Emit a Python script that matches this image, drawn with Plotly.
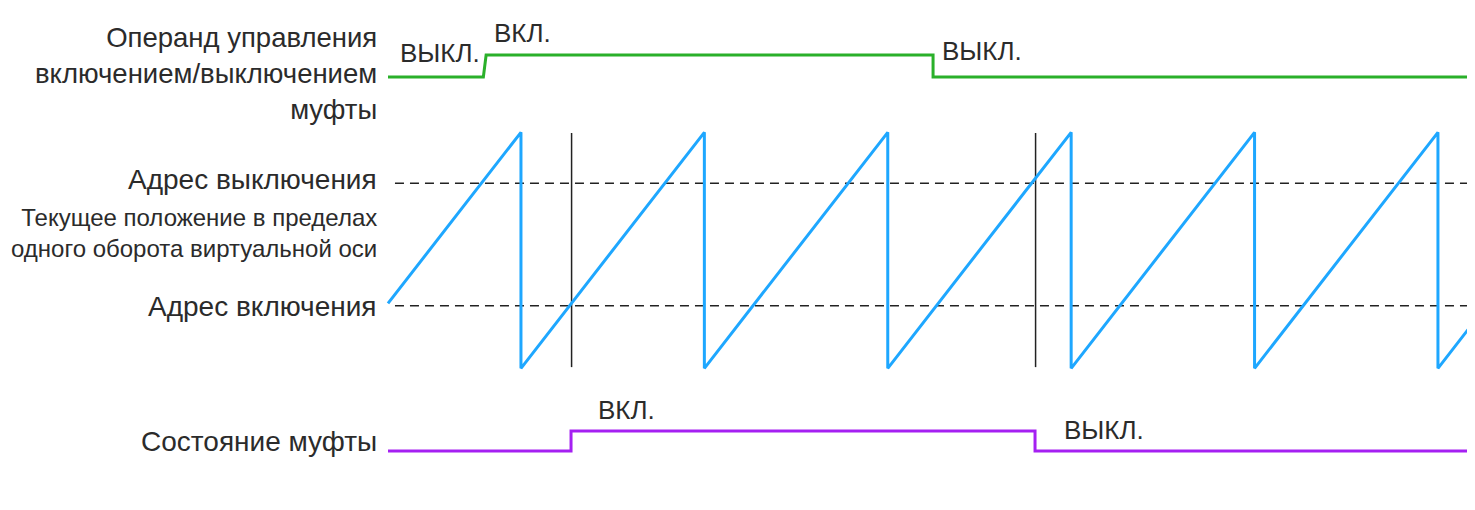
import plotly.graph_objects as go

# time axis in ms, position within one revolution in %
t_saw = [0, 72.5, 72.5, 172.5, 172.5, 272.5, 272.5, 372.5, 372.5, 472.5, 472.5, 572.5, 572.5, 600]
pos_saw = [27.5, 100, 0, 100, 0, 100, 0, 100, 0, 100, 0, 100, 0, 27.5]

t_cmd = [0, 52, 53.5, 297.2, 297.2, 600]
cmd_state = [0, 0, 1, 1, 0, 0]

t_clutch = [0, 99.8, 99.8, 352.8, 352.8, 600]
clutch_state = [0, 0, 1, 1, 0, 0]

off_address = 78.4
on_address = 26.5
t_dash = [3.8, 600]
t_events = [100.1, 353.1]
event_span = [0.5, 99.7]

# page body has an 8px margin, so the figure is a bit smaller than the window
OFF = 8
W, H = 1475 - OFF, 510 - OFF


def px(x):
    return (x - OFF) / W


def py(y):
    return 1 - (y - OFF) / H


fig = go.Figure()

for addr in [off_address, on_address]:
    fig.add_trace(go.Scatter(x=t_dash, y=[addr, addr], mode="lines",
                             line=dict(color="#222222", width=1.5, dash="9px,6px"),
                             yaxis="y", hoverinfo="skip"))

for te in t_events:
    fig.add_trace(go.Scatter(x=[te, te], y=event_span, mode="lines",
                             line=dict(color="#222222", width=1.5),
                             yaxis="y", hoverinfo="skip"))

fig.add_trace(go.Scatter(x=t_saw, y=pos_saw, mode="lines",
                         line=dict(color="#1ea7ff", width=3), yaxis="y"))
fig.add_trace(go.Scatter(x=t_cmd, y=cmd_state, mode="lines",
                         line=dict(color="#2ab02a", width=3), yaxis="y2"))
fig.add_trace(go.Scatter(x=t_clutch, y=clutch_state, mode="lines",
                         line=dict(color="#a520f2", width=3), yaxis="y3"))

txt = "#2b2b2b"
font_main = "Liberation Sans, Arial, sans-serif"
annots = [
    ("Операнд управления<br>включением/выключением<br>муфты", 379, 73, "right", 27.5),
    ("Адрес выключения", 379, 180, "right", 28),
    ("Текущее положение в пределах<br>одного оборота виртуальной оси", 379, 233, "right", 24),
    ("Адрес включения", 379, 306, "right", 28),
    ("Состояние муфты", 379, 441, "right", 28),
    ("ВЫКЛ.", 440, 53, "center", 26),
    ("ВКЛ.", 522, 33, "center", 26),
    ("ВЫКЛ.", 982, 51, "center", 26),
    ("ВКЛ.", 626, 410, "center", 26),
    ("ВЫКЛ.", 1104, 430, "center", 26),
]
for text, x, y, anchor, size in annots:
    fig.add_annotation(text=text, x=px(x), y=py(y), xref="paper", yref="paper",
                       xanchor=anchor, yanchor="middle", showarrow=False,
                       align=anchor,
                       font=dict(size=size, color=txt, family=font_main))

hidden = dict(showgrid=False, zeroline=False, showticklabels=False, showline=False, ticks="")
fig.update_layout(
    width=W, height=H,
    margin=dict(l=0, r=0, t=0, b=0),
    plot_bgcolor="white", paper_bgcolor="white",
    showlegend=False,
    xaxis=dict(range=[-207.2, 592.7], domain=[0, 1], **hidden),
    yaxis=dict(range=[-60.04, 152.67], domain=[0, 1], **hidden),
    yaxis2=dict(range=[-19.68, 3.136], overlaying="y", **hidden),
    yaxis3=dict(range=[-2.95, 22.15], overlaying="y", **hidden),
)

fig.write_html("out.html")
